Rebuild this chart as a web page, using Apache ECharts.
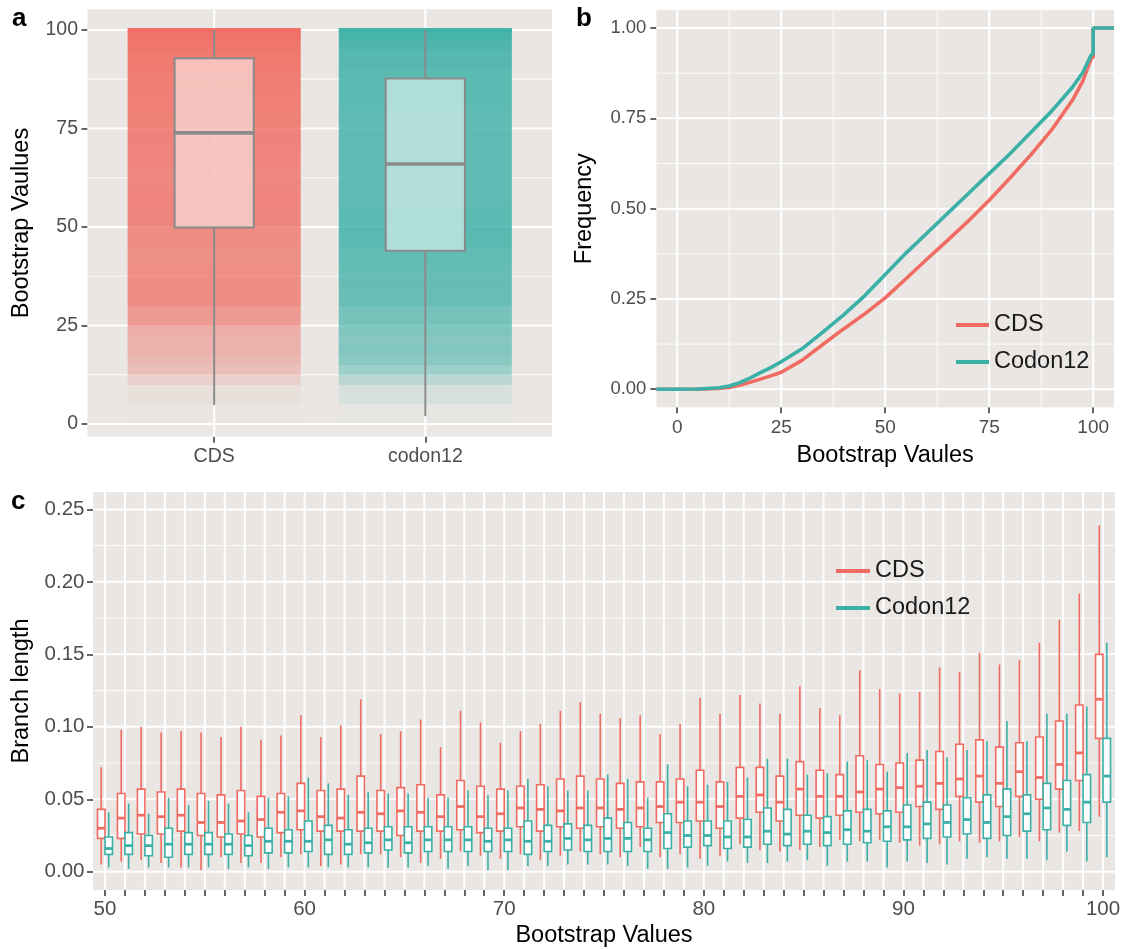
<!DOCTYPE html>
<html>
<head>
<meta charset="utf-8">
<script src="https://cdn.jsdelivr.net/npm/echarts@6/dist/echarts.min.js"></script>
<style>
html,body{margin:0;padding:0;background:#ffffff;}
#chart{width:1124px;height:949px;}
</style>
</head>
<body>
<div id="chart"></div>
<script>
// ---------------- data ----------------
// panel a : box summaries of bootstrap values per data set
const groupNames = ['CDS', 'codon12'];
const groupIndex = [1, 2];
const aMin = [4.8, 2.0];
const aQ1  = [49.9, 44.0];
const aMed = [73.9, 66.0];
const aQ3  = [92.8, 87.7];
const aMax = [100, 100];

// panel b : empirical cumulative distribution of bootstrap values
const ecdfX       = [-5, 0, 5, 10, 12.5, 15, 17.5, 20, 22.5, 25, 30, 35, 40, 45, 50, 55, 60, 65, 70, 75, 80, 85, 90, 95, 97.5, 99.5, 100, 100, 105];
const ecdfCDS     = [0, 0, 0.0002, 0.002, 0.005, 0.011, 0.019, 0.028, 0.037, 0.047, 0.080, 0.124, 0.167, 0.208, 0.253, 0.306, 0.360, 0.412, 0.466, 0.523, 0.585, 0.649, 0.718, 0.800, 0.853, 0.915, 0.920, 1, 1];
const ecdfCodon12 = [0, 0, 0.0005, 0.004, 0.009, 0.018, 0.031, 0.046, 0.060, 0.076, 0.112, 0.158, 0.206, 0.258, 0.318, 0.377, 0.432, 0.487, 0.542, 0.597, 0.652, 0.711, 0.770, 0.836, 0.877, 0.925, 0.930, 1, 1];

// panel c : branch length box summaries per bootstrap value
const branchCats = [50,51,52,53,54,55,56,57,58,59,60,61,62,63,64,65,66,67,68,69,70,71,72,73,74,75,76,77,78,79,80,81,82,83,84,85,86,87,88,89,90,91,92,93,94,95,96,97,98,99,100];
const cdsMax = [0.072,0.098,0.100,0.096,0.097,0.096,0.093,0.100,0.091,0.094,0.108,0.093,0.101,0.119,0.095,0.097,0.105,0.086,0.111,0.103,0.089,0.097,0.102,0.111,0.117,0.109,0.106,0.108,0.095,0.102,0.120,0.109,0.122,0.116,0.109,0.128,0.113,0.108,0.139,0.126,0.123,0.124,0.141,0.138,0.151,0.143,0.146,0.158,0.174,0.192,0.239];
const cdsQ3  = [0.043,0.054,0.057,0.055,0.057,0.054,0.053,0.056,0.052,0.054,0.061,0.056,0.057,0.066,0.056,0.058,0.060,0.053,0.063,0.059,0.057,0.059,0.060,0.064,0.066,0.064,0.061,0.062,0.062,0.064,0.070,0.062,0.072,0.072,0.066,0.076,0.070,0.067,0.080,0.074,0.075,0.077,0.083,0.088,0.091,0.086,0.089,0.093,0.104,0.115,0.150];
const cdsMed = [0.030,0.037,0.039,0.038,0.039,0.034,0.034,0.035,0.036,0.041,0.042,0.038,0.037,0.041,0.040,0.042,0.041,0.038,0.045,0.038,0.040,0.044,0.043,0.042,0.044,0.044,0.043,0.044,0.045,0.048,0.048,0.045,0.052,0.053,0.048,0.057,0.052,0.052,0.055,0.057,0.058,0.059,0.061,0.064,0.066,0.061,0.069,0.065,0.074,0.082,0.119];
const cdsQ1  = [0.023,0.023,0.026,0.026,0.028,0.025,0.024,0.026,0.024,0.027,0.029,0.028,0.028,0.028,0.028,0.025,0.028,0.028,0.029,0.027,0.028,0.031,0.028,0.031,0.030,0.031,0.030,0.031,0.034,0.034,0.035,0.030,0.037,0.041,0.035,0.039,0.037,0.039,0.041,0.040,0.041,0.045,0.043,0.052,0.048,0.045,0.052,0.050,0.057,0.063,0.092];
const cdsMin = [0.005,0.007,0.008,0.006,0.003,0.001,0.010,0.006,0.006,0.010,0.012,0.004,0.005,0.012,0.012,0.010,0.006,0.009,0.014,0.011,0.009,0.012,0.008,0.011,0.014,0.012,0.010,0.017,0.010,0.012,0.009,0.011,0.019,0.015,0.014,0.015,0.017,0.022,0.021,0.022,0.020,0.018,0.019,0.021,0.020,0.021,0.024,0.021,0.027,0.028,0.038];
const codMax = [0.041,0.047,0.040,0.051,0.046,0.049,0.047,0.041,0.051,0.052,0.065,0.061,0.053,0.055,0.054,0.054,0.051,0.051,0.056,0.053,0.056,0.064,0.059,0.056,0.056,0.067,0.064,0.051,0.074,0.059,0.060,0.062,0.065,0.078,0.078,0.067,0.068,0.076,0.077,0.069,0.082,0.084,0.079,0.084,0.090,0.104,0.090,0.109,0.109,0.114,0.158];
const codQ3  = [0.024,0.027,0.025,0.030,0.027,0.027,0.026,0.025,0.030,0.029,0.035,0.032,0.029,0.030,0.031,0.031,0.031,0.031,0.031,0.030,0.030,0.035,0.032,0.033,0.032,0.037,0.034,0.030,0.040,0.035,0.035,0.035,0.036,0.044,0.043,0.039,0.038,0.042,0.043,0.042,0.046,0.048,0.046,0.051,0.053,0.057,0.053,0.061,0.063,0.067,0.092];
const codMed = [0.016,0.018,0.018,0.019,0.019,0.019,0.019,0.018,0.021,0.021,0.021,0.022,0.019,0.020,0.022,0.020,0.022,0.022,0.022,0.021,0.022,0.021,0.021,0.023,0.022,0.023,0.023,0.022,0.027,0.025,0.025,0.024,0.024,0.028,0.026,0.028,0.027,0.029,0.028,0.031,0.031,0.033,0.034,0.036,0.034,0.038,0.040,0.044,0.043,0.048,0.066];
const codQ1  = [0.012,0.012,0.011,0.010,0.012,0.012,0.012,0.011,0.013,0.013,0.014,0.012,0.012,0.013,0.015,0.013,0.014,0.014,0.014,0.014,0.014,0.012,0.014,0.015,0.014,0.014,0.014,0.014,0.016,0.017,0.018,0.016,0.017,0.019,0.018,0.019,0.018,0.019,0.020,0.021,0.022,0.023,0.024,0.026,0.023,0.025,0.028,0.029,0.032,0.034,0.048];
const codMin = [0.003,0.002,0.003,0.003,0.003,0.003,0.002,0.003,0.002,0.003,0.003,0.003,0.003,0.003,0.003,0.003,0.004,0.002,0.004,0.001,0.001,0.004,0.004,0.005,0.005,0.005,0.004,0.002,0.002,0.003,0.004,0.007,0.006,0.006,0.007,0.008,0.004,0.007,0.007,0.003,0.007,0.006,0.005,0.009,0.010,0.009,0.009,0.008,0.014,0.007,0.010];

// tick / gridline values
const aYTicks = [0, 25, 50, 75, 100];
const aYMinor = [12.5, 37.5, 62.5, 87.5];
const bXTicks = [0, 25, 50, 75, 100];
const bXMinor = [12.5, 37.5, 62.5, 87.5];
const bYTicks = [0, 0.25, 0.5, 0.75, 1];
const bYMinor = [0.125, 0.375, 0.625, 0.875];
const cXLabels = [50, 60, 70, 80, 90, 100];
const cYTicks = [0, 0.05, 0.10, 0.15, 0.20, 0.25];
const cYMinor = [0.025, 0.075, 0.125, 0.175, 0.225];

// ---------------- style ----------------
const RED = '#F06B61';
const TEAL = '#3BB0A7';
const RED_RGB = [240, 107, 97];
const TEAL_RGB = [59, 176, 167];
const PANEL_BG = '#E9E6E3';
const TICK_TXT = '#4D4D4D';
const FONT = '"Liberation Sans", Arial, Helvetica, sans-serif';
const DENS_K = 165;

// ---------------- helpers ----------------
function gridLineData(hMajor, hMinor, vMajor, vMinor) {
  const d = [];
  hMinor.forEach(v => d.push([v, 0, 0]));
  vMinor.forEach(v => d.push([v, 1, 0]));
  hMajor.forEach(v => d.push([v, 0, 1]));
  vMajor.forEach(v => d.push([v, 1, 1]));
  return d;
}
function gridRender(params, api) {
  const v = api.value(0), dir = api.value(1), major = api.value(2);
  const cs = params.coordSys;
  const p = api.coord([v, v]);
  const lw = major ? 2 : 1;
  const shape = dir === 0
    ? { x1: cs.x, y1: p[1], x2: cs.x + cs.width, y2: p[1] }
    : { x1: p[0], y1: cs.y, x2: p[0], y2: cs.y + cs.height };
  return { type: 'line', shape: shape, style: { stroke: '#FFFFFF', lineWidth: lw, opacity: major ? 1 : 0.85 }, silent: true };
}
function gridSeries(idx, data) {
  return { type: 'custom', xAxisIndex: idx, yAxisIndex: idx, silent: true, z: 1,
           renderItem: gridRender, data: data, tooltip: { show: false } };
}
// density bands of the jittered points, derived from the ECDF
function densityBands(cat, xs, fs) {
  const out = [];
  for (let i = 0; i < xs.length - 1; i++) {
    const x0 = xs[i], x1 = xs[i + 1];
    if (x0 < 0 || x1 > 100) continue;
    if (x1 > x0) out.push([cat, x0, x1, (fs[i + 1] - fs[i]) / (x1 - x0)]);
    else if (x1 === x0 && fs[i + 1] > fs[i]) out.push([cat, x0 - 0.4, x0 + 0.4, (fs[i + 1] - fs[i]) / 0.8]);
  }
  return out;
}
function densRender(params, api) {
  const cat = api.value(0), lo = api.value(1), hi = api.value(2), d = api.value(3);
  const p1 = api.coord([cat - 0.41, hi]);
  const p2 = api.coord([cat + 0.41, lo]);
  const y1 = Math.round(p1[1]), y2 = Math.round(p2[1]);
  const rgb = cat === 1 ? RED_RGB : TEAL_RGB;
  const a = 0.95 * (1 - Math.exp(-DENS_K * d));
  return { type: 'rect', shape: { x: p1[0], y: y1, width: p2[0] - p1[0], height: Math.max(0, y2 - y1) },
           style: { fill: 'rgba(' + rgb.join(',') + ',' + a.toFixed(3) + ')' }, silent: true };
}
function makeBoxRender(offset, hw, stroke, fill, lw, medW) {
  return function (params, api) {
    const cx = api.value(0) + offset;
    const mn = api.value(1), q1 = api.value(2), md = api.value(3), q3 = api.value(4), mx = api.value(5);
    const pMax = api.coord([cx, mx]), pQ3 = api.coord([cx, q3]), pMed = api.coord([cx, md]);
    const pQ1 = api.coord([cx, q1]), pMin = api.coord([cx, mn]);
    const xl = api.coord([cx - hw, md])[0], xr = api.coord([cx + hw, md])[0];
    return { type: 'group', children: [
      { type: 'line', shape: { x1: pMax[0], y1: pMax[1], x2: pQ3[0], y2: pQ3[1] }, style: { stroke: stroke, lineWidth: lw } },
      { type: 'line', shape: { x1: pQ1[0], y1: pQ1[1], x2: pMin[0], y2: pMin[1] }, style: { stroke: stroke, lineWidth: lw } },
      { type: 'rect', shape: { x: xl, y: pQ3[1], width: xr - xl, height: pQ1[1] - pQ3[1] }, style: { fill: fill, stroke: stroke, lineWidth: lw } },
      { type: 'line', shape: { x1: xl, y1: pMed[1], x2: xr, y2: pMed[1] }, style: { stroke: stroke, lineWidth: medW } }
    ] };
  };
}
function tickAxisCommon(values, labelValues, fmt, fontSize, margin) {
  return {
    axisLine: { show: false, onZero: false },
    axisTick: { show: true, length: 6, customValues: values, lineStyle: { color: '#333333', width: 1.5 } },
    axisLabel: { show: true, customValues: labelValues, formatter: fmt, fontSize: fontSize, color: TICK_TXT, margin: margin, fontFamily: FONT },
    splitLine: { show: false },
    minorSplitLine: { show: false }
  };
}

// ---------------- series data ----------------
const aBoxData = groupIndex.map((g, i) => [g, aMin[i], aQ1[i], aMed[i], aQ3[i], aMax[i]]);
const aDensData = densityBands(1, ecdfX, ecdfCDS).concat(densityBands(2, ecdfX, ecdfCodon12));
const bCDS = ecdfX.map((x, i) => [x, ecdfCDS[i]]);
const bCodon = ecdfX.map((x, i) => [x, ecdfCodon12[i]]);
const cCDS = branchCats.map((c, i) => [c, cdsMin[i], cdsQ1[i], cdsMed[i], cdsQ3[i], cdsMax[i]]);
const cCodon = branchCats.map((c, i) => [c, codMin[i], codQ1[i], codMed[i], codQ3[i], codMax[i]]);

// ---------------- option ----------------
const chart = echarts.init(document.getElementById('chart'), null, { renderer: 'canvas' });
const nameStyle = { fontSize: 23.5, color: '#000000', fontFamily: FONT };

const option = {
  animation: false,
  backgroundColor: '#FFFFFF',
  textStyle: { fontFamily: FONT },
  grid: [
    { left: 87.5, top: 9.3, width: 464.5, height: 427.4, show: true, backgroundColor: PANEL_BG, borderWidth: 0, containLabel: false },
    { left: 656.4, top: 10, width: 457.6, height: 397.3, show: true, backgroundColor: PANEL_BG, borderWidth: 0, containLabel: false },
    { left: 93, top: 492, width: 1022, height: 398, show: true, backgroundColor: PANEL_BG, borderWidth: 0, containLabel: false }
  ],
  xAxis: [
    Object.assign({ type: 'value', gridIndex: 0, min: 0.4, max: 2.6 },
      tickAxisCommon(groupIndex, groupIndex, v => groupNames[Math.round(v) - 1], 19.5, 10)),
    Object.assign({ type: 'value', gridIndex: 1, min: -5, max: 105,
      name: 'Bootstrap Vaules', nameLocation: 'middle', nameGap: 36, nameTextStyle: nameStyle },
      tickAxisCommon(bXTicks, bXTicks, v => String(v), 19, 11)),
    Object.assign({ type: 'value', gridIndex: 2, min: 49.4, max: 100.6,
      name: 'Bootstrap Values', nameLocation: 'middle', nameGap: 34, nameTextStyle: nameStyle },
      tickAxisCommon(branchCats, cXLabels, v => String(v), 20.5, 9))
  ],
  yAxis: [
    Object.assign({ type: 'value', gridIndex: 0, min: -3.22, max: 105.25,
      name: 'Bootstrap Vaulues', nameLocation: 'middle', nameGap: 53.5, nameTextStyle: nameStyle },
      tickAxisCommon(aYTicks, aYTicks, v => String(v), 19.5, 9.5)),
    Object.assign({ type: 'value', gridIndex: 1, min: -0.05, max: 1.05,
      name: 'Frequency', nameLocation: 'middle', nameGap: 60, nameTextStyle: nameStyle },
      tickAxisCommon(bYTicks, bYTicks, v => v.toFixed(2), 18.5, 10)),
    Object.assign({ type: 'value', gridIndex: 2, min: -0.0126, max: 0.262,
      name: 'Branch length', nameLocation: 'middle', nameGap: 59.5, nameTextStyle: nameStyle },
      tickAxisCommon(cYTicks, cYTicks, v => v.toFixed(2), 20.5, 8.5))
  ],
  legend: [
    { left: 956, top: 313, orient: 'vertical', padding: 0, itemGap: 13, itemWidth: 33, itemHeight: 4,
      icon: 'rect', selectedMode: false,
      textStyle: { fontSize: 23.5, color: '#1A1A1A', fontFamily: FONT },
      data: [{ name: 'CDS', itemStyle: { color: RED } }, { name: 'Codon12', itemStyle: { color: TEAL } }] },
    { left: 836, top: 559, orient: 'vertical', padding: 0, itemGap: 13, itemWidth: 34, itemHeight: 4,
      icon: 'rect', selectedMode: false,
      textStyle: { fontSize: 23.5, color: '#1A1A1A', fontFamily: FONT },
      data: [{ name: 'CDS', itemStyle: { color: RED } }, { name: 'Codon12', itemStyle: { color: TEAL } }] }
  ],
  graphic: [
    { type: 'text', left: 12, top: 6, style: { text: 'a', font: 'bold 26px ' + FONT, fill: '#000' } },
    { type: 'text', left: 576, top: 6, style: { text: 'b', font: 'bold 26px ' + FONT, fill: '#000' } },
    { type: 'text', left: 11, top: 489, style: { text: 'c', font: 'bold 26px ' + FONT, fill: '#000' } }
  ],
  series: [
    // panel a
    gridSeries(0, gridLineData(aYTicks, aYMinor, groupIndex, [])),
    { name: 'jitter', type: 'custom', xAxisIndex: 0, yAxisIndex: 0, z: 2, silent: true,
      renderItem: densRender, data: aDensData },
    { name: 'box', type: 'custom', xAxisIndex: 0, yAxisIndex: 0, z: 3, silent: true,
      renderItem: makeBoxRender(0, 0.1875, '#8A8A8A', 'rgba(255,255,255,0.52)', 2, 3.6), data: aBoxData },
    // panel b
    gridSeries(1, gridLineData(bYTicks, bYMinor, bXTicks, bXMinor)),
    { name: 'CDS', type: 'line', xAxisIndex: 1, yAxisIndex: 1, z: 3, symbol: 'none', smooth: false,
      lineStyle: { color: RED, width: 3.6 }, itemStyle: { color: RED }, data: bCDS },
    { name: 'Codon12', type: 'line', xAxisIndex: 1, yAxisIndex: 1, z: 3, symbol: 'none', smooth: false,
      lineStyle: { color: TEAL, width: 3.6 }, itemStyle: { color: TEAL }, data: bCodon },
    // panel c
    gridSeries(2, gridLineData(cYTicks, cYMinor, branchCats, [])),
    { name: 'CDS', type: 'custom', xAxisIndex: 2, yAxisIndex: 2, z: 3,
      itemStyle: { color: RED },
      renderItem: makeBoxRender(-0.1875, 0.1875, RED, '#FFFFFF', 1.6, 2.8), data: cCDS },
    { name: 'Codon12', type: 'custom', xAxisIndex: 2, yAxisIndex: 2, z: 3,
      itemStyle: { color: TEAL },
      renderItem: makeBoxRender(0.1875, 0.1875, TEAL, '#FFFFFF', 1.6, 2.8), data: cCodon }
  ]
};
chart.setOption(option);
</script>
</body>
</html>
